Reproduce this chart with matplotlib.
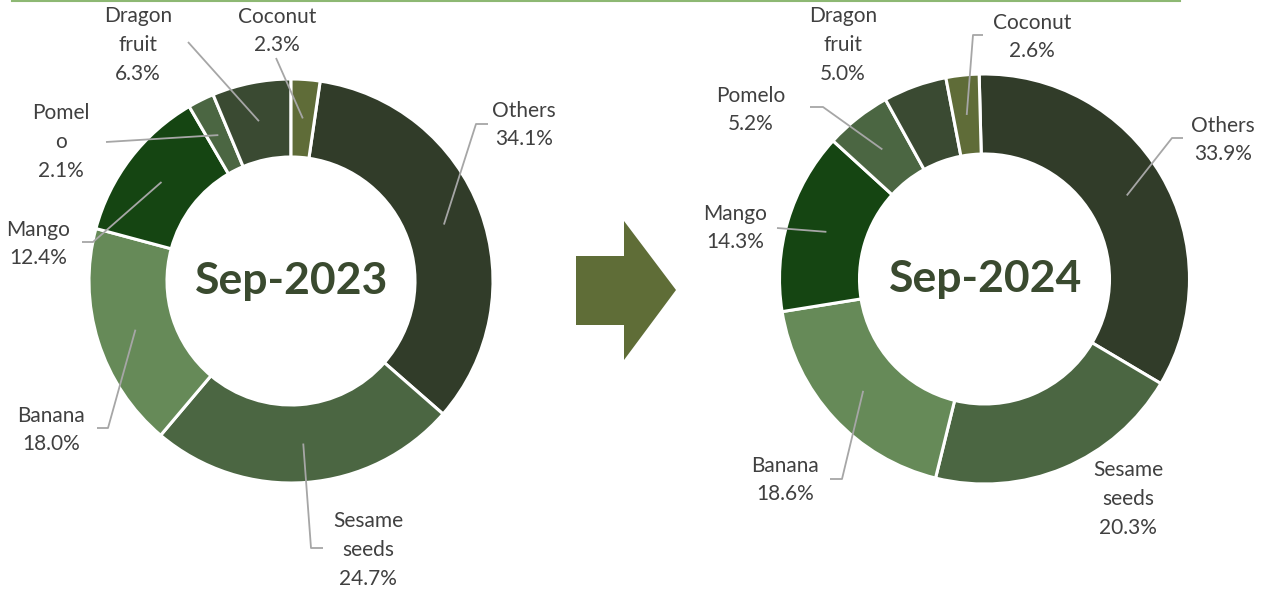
import matplotlib
matplotlib.use("Agg")
import matplotlib.pyplot as plt
from matplotlib.patches import Polygon
import numpy as np

# ---------------- data ----------------
categories_2023 = ["Others", "Sesame\nseeds", "Banana", "Mango", "Pomel\no", "Dragon\nfruit", "Coconut"]
categories_2024 = ["Others", "Sesame\nseeds", "Banana", "Mango", "Pomelo", "Dragon\nfruit", "Coconut"]
share_2023 = [34.1, 24.7, 18.0, 12.4, 2.1, 6.3, 2.3]
share_2024 = [33.9, 20.3, 18.6, 14.3, 5.2, 5.0, 2.6]
titles = ["Sep-2023", "Sep-2024"]

# ---------------- style ----------------
colors = ["#313C29", "#4B6642", "#668A58", "#154512", "#4B6642", "#3A4A32", "#5F6C38"]
label_color = "#404040"
leader_color = "#A6A6A6"
title_color = "#3A4A2F"
arrow_color = "#5F6D37"
FONT = ["Lato", "DejaVu Sans"]

W, H = 1261, 592
fig = plt.figure(figsize=(W / 100, H / 100), dpi=100)
ax = fig.add_axes([0, 0, 1, 1])


def P(x, y):
    return (x, H - y)


# layout in pixel coordinates (y downward)
layouts = [
    dict(center=(291, 281), r=202, w=78, start=81.7,
         text=[(524, 125), (368, 550), (51, 430), (38, 244), (61, 142), (138, 45), (277, 31)],
         lead=[[(488, 124), (476, 124)], [(323, 548), (311, 548)], [(97, 428), (108, 428)],
               [(82, 242), (93, 242)], [(106, 142)], [(188, 42)], [(276, 58)]]),
    dict(center=(984.5, 279), r=205, w=80, start=91.5,
         text=[(1223, 140), (1128, 499), (785, 480), (735, 228), (751, 110), (843, 45), (1032, 37)],
         lead=[[(1183, 138), (1172, 138)], None, [(830, 479), (842, 479)],
               [(777, 228)], [(810, 107), (823, 107)], None, [(983, 35), (973, 35)]]),
]

for shares, names, title, lay in zip([share_2023, share_2024],
                                     [categories_2023, categories_2024], titles, layouts):
    cx, cy = lay["center"]
    wedges, _ = ax.pie(shares, colors=colors, startangle=lay["start"], counterclock=False,
                       radius=lay["r"], center=P(cx, cy),
                       wedgeprops=dict(width=lay["w"], edgecolor="white", linewidth=2.2))
    rmid = lay["r"] - lay["w"] / 2
    for wdg, name, val, tpos, lead in zip(wedges, names, shares, lay["text"], lay["lead"]):
        tx, ty = tpos
        ax.text(tx, H - ty, f"{name}\n{val:.1f}%", ha="center", va="center",
                multialignment="center", fontsize=15, color=label_color,
                family=FONT, linespacing=1.55)
        if lead:
            ang = np.deg2rad((wdg.theta1 + wdg.theta2) / 2)
            ex, ey = wdg.center[0] + rmid * np.cos(ang), wdg.center[1] + rmid * np.sin(ang)
            xs = [p[0] for p in lead] + [ex]
            ys = [H - p[1] for p in lead] + [ey]
            ax.plot(xs, ys, color=leader_color, lw=1.3, solid_capstyle="butt", zorder=5)
    ax.text(cx + 1, H - cy, title, ha="center", va="center", fontsize=32,
            fontweight="bold", color=title_color, family=FONT)

# arrow
arrow_px = [(576, 256), (624, 256), (624, 221), (676, 290), (624, 360), (624, 325), (576, 325)]
ax.add_patch(Polygon([P(x, y) for x, y in arrow_px], closed=True, facecolor=arrow_color,
                     edgecolor="none"))

# top rule
ax.plot([12, 1180], [H - 1, H - 1], color="#8DB873", lw=1.5, clip_on=False)

ax.set_xlim(0, W)
ax.set_ylim(0, H)
ax.set_aspect("equal")
ax.axis("off")

fig.savefig("out.png", dpi=100, facecolor="white")
